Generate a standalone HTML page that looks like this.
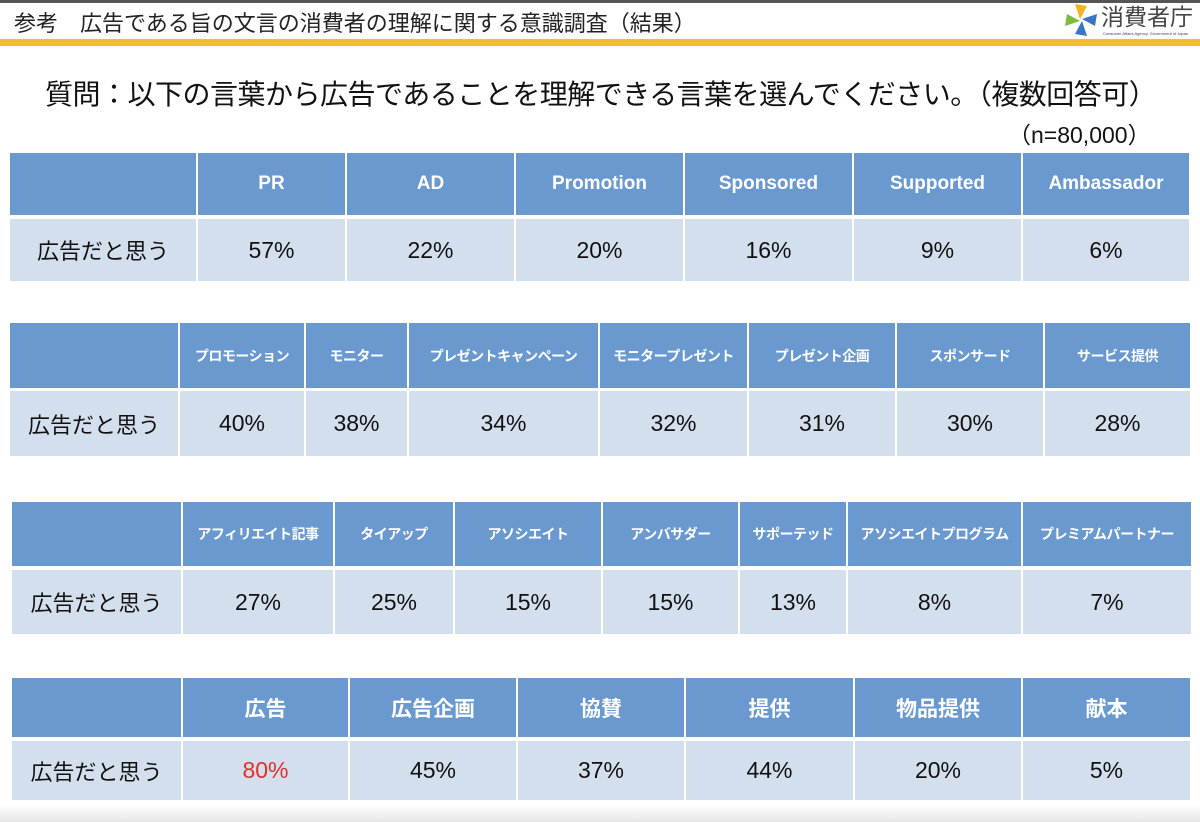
<!DOCTYPE html>
<html><head><meta charset="utf-8">
<style>
body{margin:0;width:1200px;height:822px;position:relative;background:#fff;overflow:hidden;font-family:"Liberation Sans","Noto Sans CJK JP",sans-serif;}
.abs{position:absolute;}
.cell{position:absolute;display:flex;align-items:center;justify-content:center;box-sizing:border-box;white-space:nowrap;}
.h{background:#6a99d0;color:#fff;font-weight:bold;}
.r{background:#d4dfee;color:#111;}
</style></head><body>
<div class="abs" style="left:0;top:0;width:1200px;height:3px;background:#555"></div>
<div class="abs" style="left:14px;top:6px;font-size:22px;color:#222;white-space:nowrap">参考　広告である旨の文言の消費者の理解に関する意識調査（結果）</div>
<div class="abs" style="left:1063px;top:2px;width:134px;height:36px;white-space:nowrap">
<svg width="36" height="36" viewBox="0 0 36 36"><path d="M12 2 L24 4 L17 17 Z" fill="#f2b31c"/><path d="M34 12 L32 24 L19 17 Z" fill="#3a74c4"/><path d="M24 34 L12 32 L19 19 Z" fill="#3a74c4"/><path d="M2 24 L4 12 L17 19 Z" fill="#7dbb3c"/></svg>
<span style="position:absolute;left:38px;top:2px;font-size:23px;line-height:26px;color:#444">消費者庁</span>
<span style="position:absolute;left:40px;top:29px;font-size:4px;color:#444">Consumer Affairs Agency, Government of Japan</span>
</div>
<div class="abs" style="left:0;top:39px;width:1200px;height:7px;background:#f3bd3c"></div>
<div class="abs" style="left:45px;top:73px;font-size:28px;color:#111;white-space:nowrap;letter-spacing:-0.5px">質問：以下の言葉から広告であることを理解できる言葉を選んでください。（複数回答可）</div>
<div class="abs" style="left:1008px;top:116px;font-size:23px;color:#111;white-space:nowrap">（n=80,000）</div>
<div class="abs" style="left:0;top:805px;width:1200px;height:17px;background:linear-gradient(#fff,#e6e6e6)"></div>
<div id="tables"></div>
<script>
const rowLabel = "広告だと思う";
const t1Words = ["PR","AD","Promotion","Sponsored","Supported","Ambassador"];
const t1Values = ["57%","22%","20%","16%","9%","6%"];
const t2Words = ["プロモーション","モニター","プレゼントキャンペーン","モニタープレゼント","プレゼント企画","スポンサード","サービス提供"];
const t2Values = ["40%","38%","34%","32%","31%","30%","28%"];
const t3Words = ["アフィリエイト記事","タイアップ","アソシエイト","アンバサダー","サポーテッド","アソシエイトプログラム","プレミアムパートナー"];
const t3Values = ["27%","25%","15%","15%","13%","8%","7%"];
const t4Words = ["広告","広告企画","協賛","提供","物品提供","献本"];
const t4Values = ["80%","45%","37%","44%","20%","5%"];

const layouts = [
 {words:t1Words,vals:t1Values,cols:[10,198,347,516,685,854,1023,1191],hy:153,hh:62,ry:219,rh:62,hf:19,name:"table-english"},
 {words:t2Words,vals:t2Values,cols:[10,180,306,409,600,749,897,1045,1192],hy:323,hh:65,ry:391,rh:65,hf:14,name:"table-katakana-1"},
 {words:t3Words,vals:t3Values,cols:[12,183,335,455,603,740,848,1023,1193],hy:502,hh:64,ry:570,rh:64,hf:14,name:"table-katakana-2"},
 {words:t4Words,vals:t4Values,cols:[12,183,350,518,686,855,1023,1192],hy:678,hh:59,ry:741,rh:59,hf:21,name:"table-kanji"}
];
const root = document.getElementById('tables');
function cell(x,y,w,h,cls,txt,fs,name){
  const d=document.createElement('div');
  d.className='cell '+cls;
  d.style.left=x+'px';d.style.top=y+'px';d.style.width=w+'px';d.style.height=h+'px';d.style.fontSize=fs+'px';
  d.textContent=txt;
  
  
  root.appendChild(d);
  return d;
}
layouts.forEach((L)=>{
  const c=L.cols;
  cell(c[0],L.hy,c[1]-c[0]-2,L.hh,'h','',L.hf,L.name+'-corner');
  cell(c[0],L.ry,c[1]-c[0]-2,L.rh,'r',rowLabel,22,L.name+'-row-label');
  L.words.forEach((w,i)=>{
    const hd=cell(c[i+1],L.hy,c[i+2]-c[i+1]-2,L.hh,'h',w,L.hf,L.name+'-header-'+(i+1));
    if(L.hf<15) hd.style.letterSpacing='-0.5px';
    const v=cell(c[i+1],L.ry,c[i+2]-c[i+1]-2,L.rh,'r',L.vals[i],23,L.name+'-value-'+(i+1));
    if(L.name==='table-kanji'&&i===0) v.style.color='#e0302a';
  });
});
</script>
</body></html>
